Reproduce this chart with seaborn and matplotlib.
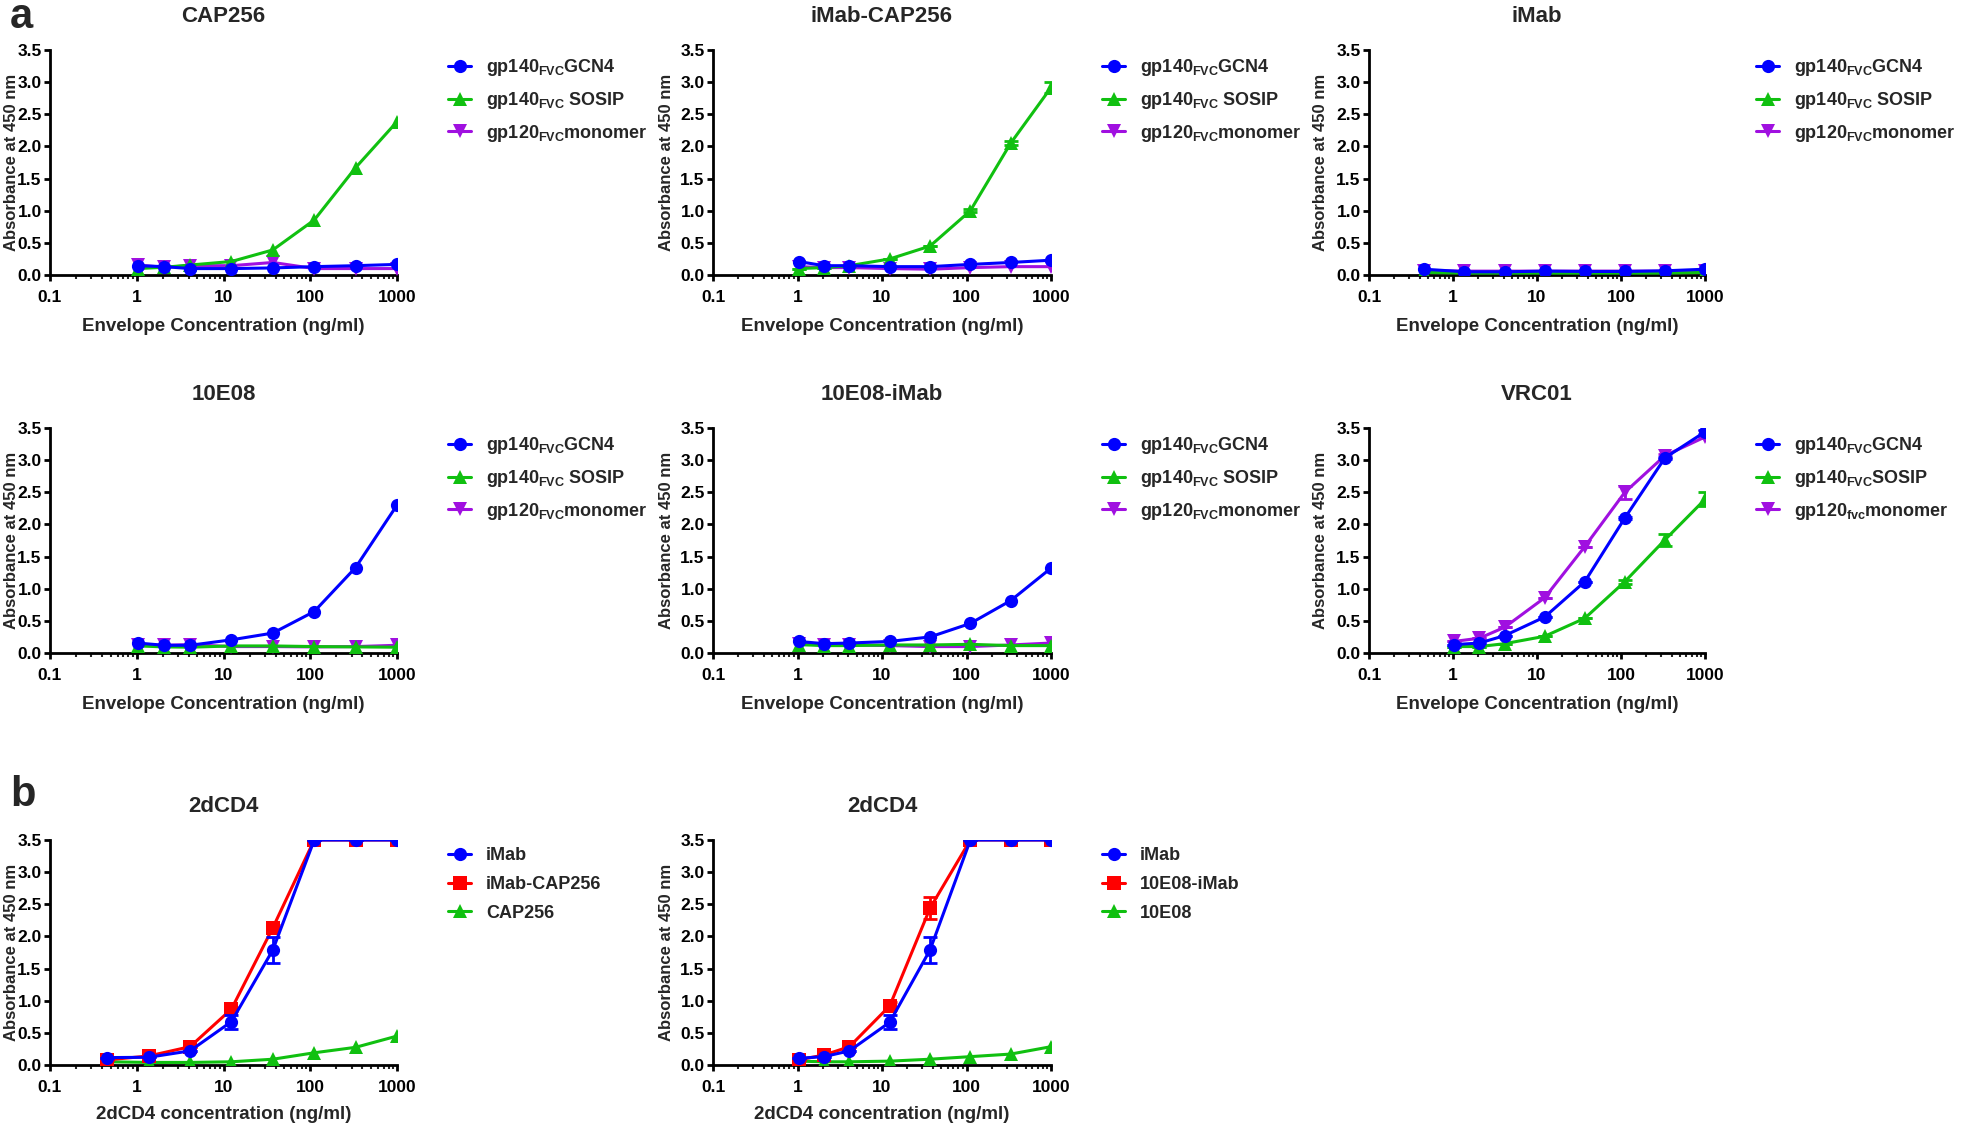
import matplotlib
matplotlib.use('Agg')
import matplotlib.pyplot as plt
import seaborn as sns
from matplotlib.ticker import LogLocator, FixedLocator, NullFormatter

# concentrations (ng/ml)
conc_a = [1.03, 2.06, 4.12, 12.35, 37.04, 111.1, 333.3, 1000]
conc_b = [0.457, 1.37, 4.12, 12.35, 37.04, 111.1, 333.3, 1000]

# CAP256
cap_gcn4 = [0.145, 0.13, 0.10, 0.10, 0.11, 0.13, 0.145, 0.165]
cap_sosip = [0.10, 0.12, 0.155, 0.21, 0.39, 0.855, 1.67, 2.385]
cap_mono = [0.155, 0.12, 0.145, 0.145, 0.195, 0.10, 0.10, 0.10]

# iMab-CAP256
icap_gcn4 = [0.21, 0.145, 0.145, 0.13, 0.13, 0.165, 0.195, 0.23]
icap_sosip = [0.10, 0.115, 0.145, 0.25, 0.45, 1.0, 2.05, 2.915]
icap_sosip_err = [0, 0, 0, 0, 0, 0.02, 0.03, 0.08]
icap_mono = [0.13, 0.115, 0.115, 0.10, 0.09, 0.115, 0.13, 0.13]

# iMab
imab_gcn4 = [0.09, 0.05, 0.05, 0.06, 0.055, 0.055, 0.065, 0.09]
imab_sosip = [0.04, 0.03, 0.03, 0.03, 0.03, 0.03, 0.03, 0.04]
imab_mono = [0.07, 0.06, 0.06, 0.06, 0.06, 0.06, 0.06, 0.07]

# 10E08
e08_gcn4 = [0.155, 0.12, 0.12, 0.205, 0.31, 0.645, 1.33, 2.30]
e08_sosip = [0.11, 0.095, 0.09, 0.11, 0.11, 0.10, 0.095, 0.09]
e08_mono = [0.13, 0.12, 0.13, 0.10, 0.10, 0.095, 0.10, 0.12]

# 10E08-iMab
e08i_gcn4 = [0.18, 0.145, 0.155, 0.18, 0.25, 0.46, 0.815, 1.32]
e08i_sosip = [0.13, 0.115, 0.115, 0.125, 0.125, 0.135, 0.115, 0.115]
e08i_mono = [0.145, 0.125, 0.125, 0.115, 0.10, 0.10, 0.125, 0.155]

# VRC01
vrc_gcn4 = [0.13, 0.155, 0.27, 0.56, 1.11, 2.10, 3.035, 3.44]
vrc_gcn4_err = [0, 0, 0, 0, 0, 0.02, 0.02, 0.03]
vrc_sosip = [0.10, 0.10, 0.145, 0.26, 0.54, 1.11, 1.76, 2.39]
vrc_sosip_err = [0, 0, 0, 0, 0, 0.03, 0.09, 0.11]
vrc_mono = [0.18, 0.23, 0.40, 0.86, 1.655, 2.50, 3.07, 3.36]
vrc_mono_err = [0, 0, 0, 0, 0, 0.10, 0.03, 0.02]

# 2dCD4 (left)
cd4a_imab = [0.115, 0.12, 0.22, 0.675, 1.79, 3.5, 3.5, 3.5]
cd4a_imab_err = [0, 0, 0, 0.11, 0.2, 0, 0, 0]
cd4a_icap = [0.08, 0.14, 0.285, 0.87, 2.135, 3.5, 3.5, 3.5]
cd4a_icap_err = [0, 0, 0, 0.03, 0.04, 0, 0, 0]
cd4a_cap = [0.05, 0.04, 0.04, 0.05, 0.09, 0.19, 0.275, 0.45]

# 2dCD4 (right)
cd4b_imab = [0.105, 0.13, 0.22, 0.665, 1.79, 3.5, 3.5, 3.5]
cd4b_imab_err = [0, 0, 0, 0.11, 0.2, 0, 0, 0]
cd4b_e08i = [0.08, 0.155, 0.285, 0.92, 2.44, 3.5, 3.5, 3.5]
cd4b_e08i_err = [0, 0, 0, 0.06, 0.17, 0, 0, 0]
cd4b_e08 = [0.06, 0.05, 0.05, 0.06, 0.09, 0.13, 0.17, 0.285]

BLUE = '#0000ff'
GREEN = '#10c010'
PURPLE = '#a010e0'
RED = '#ff0000'

sns.set_style('ticks')
base = 'Liberation Sans'
plt.rcParams['font.family'] = [base, 'DejaVu Sans']
plt.rcParams['font.weight'] = 'bold'
plt.rcParams['mathtext.fontset'] = 'custom'
plt.rcParams['mathtext.rm'] = base + ':bold'
plt.rcParams['mathtext.bf'] = base + ':bold'
plt.rcParams['mathtext.it'] = base + ':bold'

sub = lambda s: r'$_{\mathrm{' + s + '}}$'
lab_gcn4 = 'gp140' + sub('FVC') + 'GCN4'
lab_sosip = 'gp140' + sub('FVC') + ' SOSIP'
lab_mono = 'gp120' + sub('FVC') + 'monomer'

env_label = 'Envelope Concentration (ng/ml)'
cd4_label = '2dCD4 concentration (ng/ml)'

panels = [
    ('CAP256', conc_a, env_label, [
        (lab_gcn4, cap_gcn4, None, BLUE, 'o'),
        (lab_sosip, cap_sosip, None, GREEN, '^'),
        (lab_mono, cap_mono, None, PURPLE, 'v')]),
    ('iMab-CAP256', conc_a, env_label, [
        (lab_gcn4, icap_gcn4, None, BLUE, 'o'),
        (lab_sosip, icap_sosip, icap_sosip_err, GREEN, '^'),
        (lab_mono, icap_mono, None, PURPLE, 'v')]),
    ('iMab', conc_b, env_label, [
        (lab_gcn4, imab_gcn4, None, BLUE, 'o'),
        (lab_sosip, imab_sosip, None, GREEN, '^'),
        (lab_mono, imab_mono, None, PURPLE, 'v')]),
    ('10E08', conc_a, env_label, [
        (lab_gcn4, e08_gcn4, None, BLUE, 'o'),
        (lab_sosip, e08_sosip, None, GREEN, '^'),
        (lab_mono, e08_mono, None, PURPLE, 'v')]),
    ('10E08-iMab', conc_a, env_label, [
        (lab_gcn4, e08i_gcn4, None, BLUE, 'o'),
        (lab_sosip, e08i_sosip, None, GREEN, '^'),
        (lab_mono, e08i_mono, None, PURPLE, 'v')]),
    ('VRC01', conc_a, env_label, [
        (lab_gcn4, vrc_gcn4, vrc_gcn4_err, BLUE, 'o'),
        ('gp140' + sub('FVC') + 'SOSIP', vrc_sosip, vrc_sosip_err, GREEN, '^'),
        ('gp120' + sub('fvc') + 'monomer', vrc_mono, vrc_mono_err, PURPLE, 'v')]),
    ('2dCD4', conc_b, cd4_label, [
        ('iMab', cd4a_imab, cd4a_imab_err, BLUE, 'o'),
        ('iMab-CAP256', cd4a_icap, cd4a_icap_err, RED, 's'),
        ('CAP256', cd4a_cap, None, GREEN, '^')]),
    ('2dCD4', conc_a, cd4_label, [
        ('iMab', cd4b_imab, cd4b_imab_err, BLUE, 'o'),
        ('10E08-iMab', cd4b_e08i, cd4b_e08i_err, RED, 's'),
        ('10E08', cd4b_e08, None, GREEN, '^')]),
]

W, H = 1961, 1124
lefts = [50, 713, 1369]
widths = [347, 338, 336]
tops = [50, 428, 840]
ah = 225
ylab_right = [19, 674, 1328]   # right edge of the rotated y label, px
xlab_pad = [10, 10, 8]

fig = plt.figure(figsize=(W / 100, H / 100), dpi=100)

for k, (title, conc, xlab, series) in enumerate(panels):
    r, c = divmod(k, 3)
    aw = widths[c]
    ax = fig.add_axes([lefts[c] / W, 1 - (tops[r] + ah) / H, aw / W, ah / H])
    ax.set_xscale('log')
    n = len(series)
    for i, (lab, vals, err, col, mk) in enumerate(series):
        z = 3 + (n - i)
        sns.lineplot(x=conc, y=vals, color=col, marker=mk, markersize=9.5,
                     markeredgewidth=0, linewidth=2.2, label=lab, errorbar=None,
                     ax=ax, zorder=z)
        if err is not None:
            ax.errorbar(conc, vals, yerr=err, fmt='none', ecolor=col,
                        elinewidth=2, capsize=5, capthick=2, zorder=z)
    ax.set_xlim(0.1, 1000)
    ax.set_ylim(0, 3.5)
    ax.xaxis.set_major_locator(FixedLocator([0.1, 1, 10, 100, 1000]))
    ax.set_xticklabels(['0.1', '1', '10', '100', '1000'])
    ax.xaxis.set_minor_locator(LogLocator(base=10, subs=range(2, 10)))
    ax.xaxis.set_minor_formatter(NullFormatter())
    ax.set_yticks([0, 0.5, 1, 1.5, 2, 2.5, 3, 3.5])
    ax.set_yticklabels(['0.0', '0.5', '1.0', '1.5', '2.0', '2.5', '3.0', '3.5'])
    for s in ['top', 'right']:
        ax.spines[s].set_visible(False)
    for s in ['left', 'bottom']:
        ax.spines[s].set_linewidth(2)
        ax.spines[s].set_color('black')
    ax.tick_params(which='major', direction='out', length=4, width=2,
                   labelsize=12.5, colors='black')
    ax.tick_params(axis='x', which='major', pad=6.5)
    ax.tick_params(axis='y', which='major', pad=2)
    ax.tick_params(which='minor', direction='out', length=3, width=1.5)
    for t in ax.get_xticklabels() + ax.get_yticklabels():
        t.set_fontweight('bold')
    ax.set_xlabel(xlab, fontsize=13.5, fontweight='bold', labelpad=xlab_pad[r])
    ax.set_ylabel('Absorbance at 450 nm', fontsize=12, fontweight='bold')
    ax.yaxis.set_label_coords((ylab_right[c] - lefts[c]) / aw, 0.5)
    ax.set_title(title, fontsize=16, fontweight='bold', pad=20)
    ax.legend(loc='upper left', bbox_to_anchor=(1 + 44 / aw, 1.0), frameon=False,
              fontsize=13, handlelength=1.25, handletextpad=0.85,
              labelspacing=0.65, borderaxespad=0)

fig.text(10 / W, 1 - 28 / H, 'a', fontsize=30, fontweight='bold', va='baseline')
fig.text(10 / W, 1 - 806 / H, 'b', fontsize=30, fontweight='bold', va='baseline')

fig.savefig('out.png', dpi=100)
